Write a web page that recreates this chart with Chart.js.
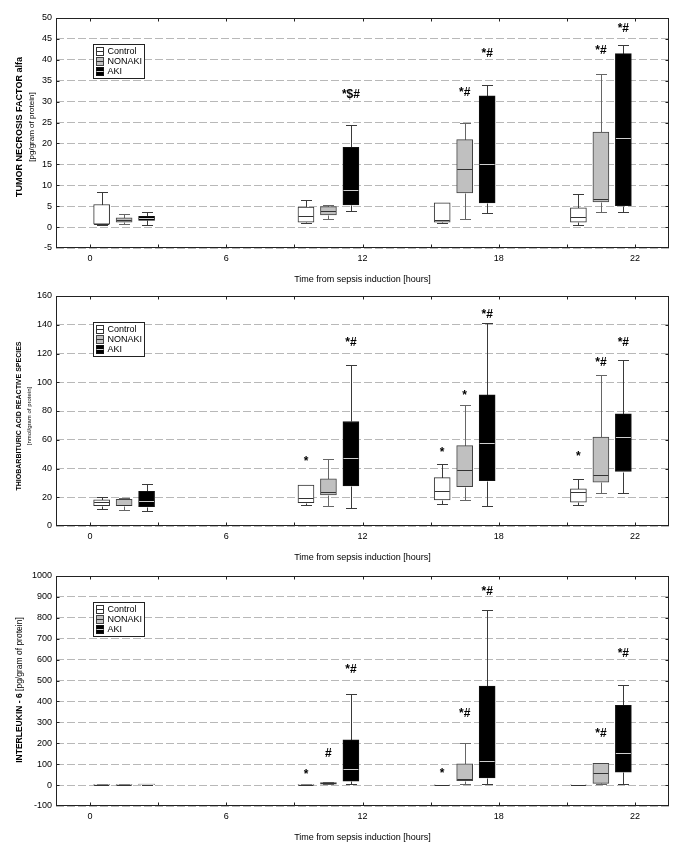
<!DOCTYPE html>
<html>
<head>
<meta charset="utf-8">
<script src="https://cdn.jsdelivr.net/npm/chart.js@4.4.0/dist/chart.umd.min.js"></script>
<style>
  body { margin: 0; background: #fff; }
  .panel { position: absolute; left: 0; width: 685px; height: 285px; }
</style>
</head>
<body>
<div class="panel" style="top:0px"><canvas id="tnf" width="685" height="285"></canvas></div>
<div class="panel" style="top:278px"><canvas id="tbars" width="685" height="285"></canvas></div>
<div class="panel" style="top:558px"><canvas id="il6" width="685" height="285"></canvas></div>
<script>
// x axis tick labels (hours) and the time points that have measurements
const timeLabels = ['0', '6', '12', '18', '22'];
const measuredTimes = ['0', '12', '18', '22'];
const groupNames = ['Control', 'NONAKI', 'AKI'];

// each row: [min, q1, median, q3, max] per measured time
const tnfControl = [[0.6, 0.7, 0.8, 5.4, 8.4], [1.0, 1.2, 2.6, 4.8, 6.5], [0.9, 1.2, 1.7, 5.8, 5.8], [0.5, 1.2, 2.5, 4.6, 7.9]];
const tnfNonaki  = [[0.7, 1.2, 1.7, 2.2, 3.1], [2.0, 2.9, 3.9, 4.9, 5.3], [2.0, 8.2, 13.9, 20.9, 25.0], [3.5, 6.0, 6.7, 22.7, 36.6]];
const tnfAki     = [[0.5, 1.6, 2.1, 2.6, 3.6], [3.9, 5.3, 8.9, 19.1, 24.3], [3.3, 5.8, 15.0, 31.4, 34.0], [3.5, 5.1, 21.4, 41.5, 43.6]];

const tbarsControl = [[11.5, 14.1, 16.6, 18.2, 20.3], [14.5, 16.2, 19.2, 28.4, 28.4], [15.5, 18.2, 24.2, 33.7, 43.2], [14.8, 16.6, 24.0, 25.9, 32.8]];
const tbarsNonaki  = [[11.1, 14.1, 14.8, 18.5, 19.2], [14.1, 21.7, 24.0, 32.8, 46.7], [18.2, 27.3, 39.0, 55.9, 84.1], [23.1, 30.5, 35.6, 61.9, 105.3]];
const tbarsAki     = [[10.4, 13.4, 17.6, 24.2, 29.3], [12.5, 27.9, 47.3, 72.7, 111.8], [13.9, 31.6, 57.7, 91.2, 140.9], [23.1, 37.9, 62.1, 78.1, 115.5]];

const il6Control = [[0.5, 1, 1.5, 2, 3], [0, 1, 1.5, 2, 3], [0, 0.5, 1, 1.5, 2], [0, 0.5, 1, 1.5, 2]];
const il6Nonaki  = [[0.5, 1, 1.5, 2, 3], [3, 5, 8, 12, 14], [3, 21, 30, 102, 201], [3, 8, 57, 104, 104]];
const il6Aki     = [[2, 3, 4, 5, 7], [3, 19, 75, 217, 438], [3, 34, 113, 473, 838], [3, 62, 153, 382, 481]];

// significance marks: [time index, group index, text, value where the mark sits]
const tnfMarks = [[1, 2, '*$#', 31.8], [2, 1, '*#', 32.3], [2, 2, '*#', 41.7], [3, 1, '*#', 42.3], [3, 2, '*#', 47.6]];
const tbarsMarks = [[1, 0, '*', 46.9], [1, 2, '*#', 128.2], [2, 0, '*', 52.7], [2, 1, '*', 92.8], [2, 2, '*#', 147.8],
                    [3, 0, '*', 50.3], [3, 1, '*#', 114.3], [3, 2, '*#', 128.2]];
const il6Marks = [[1, 0, '*', 62], [1, 1, '#', 153], [1, 2, '*#', 557], [2, 0, '*', 67], [2, 1, '*#', 347],
                  [2, 2, '*#', 928], [3, 1, '*#', 251], [3, 2, '*#', 632]];

const FONT = '"Liberation Sans", Arial, sans-serif';
const fills = ['#ffffff', '#c0c0c0', '#000000'];
const edges = ['#333333', '#444444', '#111111'];
const whiskerCols = ['#3a3a3a', '#666666', '#3a3a3a'];
const medianCols = ['#333333', '#333333', '#cfcfcf'];
const seriesShift = [-0.165, 0, 0.165];

function groupPos(g) {
  const i = timeLabels.indexOf(measuredTimes[g]);
  return i === 0 ? i + 0.25 : i - 0.25;
}

function makePanel(id, series, marks, yMin, yMax, yStep, title) {
  const datasets = series.map((rows, s) => ({
    label: groupNames[s],
    data: rows.map((r, g) => ({ x: groupPos(g) + seriesShift[s], y: [r[1], r[3]] })),
    backgroundColor: fills[s],
    borderColor: edges[s],
    borderWidth: 1,
    borderSkipped: false,
    barThickness: 16,
    grouped: false
  }));

  const boxPlugin = {
    id: 'boxParts',
    beforeDatasetsDraw(chart) {
      const { ctx, scales: { x, y } } = chart;
      ctx.save();
      ctx.lineWidth = 1;
      series.forEach((rows, s) => rows.forEach((r, g) => {
        const px = Math.round(x.getPixelForValue(groupPos(g) + seriesShift[s])) + 0.5;
        const py = v => Math.round(y.getPixelForValue(v)) + 0.5;
        ctx.strokeStyle = whiskerCols[s];
        ctx.beginPath();
        ctx.moveTo(px, py(r[3])); ctx.lineTo(px, py(r[4]));
        ctx.moveTo(px, py(r[1])); ctx.lineTo(px, py(r[0]));
        ctx.moveTo(px - 5.5, py(r[4])); ctx.lineTo(px + 5.5, py(r[4]));
        ctx.moveTo(px - 5.5, py(r[0])); ctx.lineTo(px + 5.5, py(r[0]));
        ctx.stroke();
      }));
      ctx.restore();
    },
    afterDatasetsDraw(chart) {
      const { ctx, scales: { x, y } } = chart;
      ctx.save();
      ctx.lineWidth = 1;
      series.forEach((rows, s) => rows.forEach((r, g) => {
        const px = x.getPixelForValue(groupPos(g) + seriesShift[s]);
        const my = Math.round(y.getPixelForValue(r[2])) + 0.5;
        ctx.strokeStyle = medianCols[s];
        ctx.beginPath();
        ctx.moveTo(px - 7.5, my); ctx.lineTo(px + 7.5, my);
        ctx.stroke();
      }));
      // significance marks
      ctx.fillStyle = '#000';
      ctx.font = 'bold 12px ' + FONT;
      ctx.textAlign = 'center';
      ctx.textBaseline = 'alphabetic';
      marks.forEach(m => {
        const px = x.getPixelForValue(groupPos(m[0]) + seriesShift[m[1]]);
        const off = m[2] === '*' ? 6 : 4;
        ctx.fillText(m[2], px, y.getPixelForValue(m[3]) + off);
      });
      ctx.restore();
    },
    afterDraw(chart) {
      const { ctx, chartArea: a, scales: { x, y } } = chart;
      ctx.save();
      // frame with inward ticks
      ctx.strokeStyle = '#222';
      ctx.lineWidth = 1;
      const L = Math.round(a.left) + 0.5, R = Math.round(a.right) - 0.5;
      const T = Math.round(a.top) + 0.5, B = Math.round(a.bottom) - 0.5;
      ctx.strokeRect(L, T, R - L, B - T);
      ctx.beginPath();
      for (let v = 0; v <= timeLabels.length - 1; v += 0.5) {
        const px = Math.round(x.getPixelForValue(v)) + 0.5;
        ctx.moveTo(px, B); ctx.lineTo(px, B - 3);
        ctx.moveTo(px, T); ctx.lineTo(px, T + 3);
      }
      for (let v = yMin + yStep; v < yMax; v += yStep) {
        const py = Math.round(y.getPixelForValue(v)) + 0.5;
        ctx.moveTo(L, py); ctx.lineTo(L + 3, py);
        ctx.moveTo(R, py); ctx.lineTo(R - 3, py);
      }
      ctx.stroke();

      // legend
      const lx = Math.round(a.left) + 37.5, ly = Math.round(a.top) + 26.5;
      ctx.fillStyle = '#fff';
      ctx.fillRect(lx, ly, 51, 34);
      ctx.strokeStyle = '#222';
      ctx.strokeRect(lx, ly, 51, 34);
      ctx.font = '9px ' + FONT;
      ctx.textAlign = 'left';
      ctx.textBaseline = 'middle';
      groupNames.forEach((name, s) => {
        const cy = ly + 7 + s * 10;
        ctx.fillStyle = fills[s];
        ctx.fillRect(lx + 3, cy - 4, 7, 8);
        ctx.strokeStyle = edges[s];
        ctx.strokeRect(lx + 3, cy - 4, 7, 8);
        ctx.strokeStyle = medianCols[s];
        ctx.beginPath(); ctx.moveTo(lx + 3, cy); ctx.lineTo(lx + 10, cy); ctx.stroke();
        ctx.fillStyle = '#000';
        ctx.fillText(name, lx + 14, cy + 0.5);
      });

      // y axis title (rotated, possibly mixed weights)
      title.lines.forEach(line => {
        ctx.save();
        ctx.translate(line.x, title.center);
        ctx.rotate(-Math.PI / 2);
        ctx.textBaseline = 'middle';
        ctx.textAlign = 'left';
        let total = 0;
        line.runs.forEach(run => {
          ctx.font = (run.bold ? 'bold ' : '') + run.size + 'px ' + FONT;
          total += ctx.measureText(run.t).width;
        });
        let cx = -total / 2;
        ctx.fillStyle = '#000';
        line.runs.forEach(run => {
          ctx.font = (run.bold ? 'bold ' : '') + run.size + 'px ' + FONT;
          ctx.fillText(run.t, cx, 0);
          cx += ctx.measureText(run.t).width;
        });
        ctx.restore();
      });
      ctx.restore();
    }
  };

  return new Chart(document.getElementById(id), {
    type: 'bar',
    data: { datasets },
    options: {
      responsive: false,
      animation: false,
      layout: { padding: { top: 18, right: 16, left: 0, bottom: 0 } },
      plugins: { legend: { display: false }, tooltip: { enabled: false } },
      scales: {
        x: {
          type: 'linear',
          min: -0.25,
          max: timeLabels.length - 0.75,
          offset: false,
          grid: { display: false, drawTicks: false },
          border: { display: false },
          ticks: {
            stepSize: 1,
            includeBounds: false,
            autoSkip: false,
            maxRotation: 0,
            padding: 5,
            color: '#000',
            font: { size: 9, family: FONT },
            callback: v => (timeLabels[v] !== undefined ? timeLabels[v] : '')
          },
          title: {
            display: true,
            text: 'Time from sepsis induction [hours]',
            color: '#000',
            font: { size: 9, family: FONT },
            padding: { top: 0, bottom: 0 }
          },
          afterFit: s => { s.height = 37; }
        },
        y: {
          min: yMin,
          max: yMax,
          grid: { color: '#b8b8b8', lineWidth: 1, drawTicks: false },
          border: { display: false, dash: [8, 3] },
          ticks: {
            stepSize: yStep,
            padding: 4,
            color: '#000',
            font: { size: 9, family: FONT },
            callback: v => String(v)
          },
          afterFit: s => { s.width = 56; }
        }
      }
    },
    plugins: [boxPlugin]
  });
}

makePanel('tnf', [tnfControl, tnfNonaki, tnfAki], tnfMarks, -5, 50, 5, {
  center: 127,
  lines: [
    { x: 20, runs: [{ t: 'TUMOR NECROSIS FACTOR alfa', bold: true, size: 9 }] },
    { x: 32, runs: [{ t: '[pg/gram of protein]', bold: false, size: 8 }] }
  ]
});

makePanel('tbars', [tbarsControl, tbarsNonaki, tbarsAki], tbarsMarks, 0, 160, 20, {
  center: 138,
  lines: [
    { x: 19, runs: [{ t: 'THIOBARBITURIC ACID REACTIVE SPECIES', bold: true, size: 7 }] },
    { x: 29, runs: [{ t: '[nmol/gram of protein]', bold: false, size: 6 }] }
  ]
});

makePanel('il6', [il6Control, il6Nonaki, il6Aki], il6Marks, -100, 1000, 100, {
  center: 132,
  lines: [
    { x: 20, runs: [{ t: 'INTERLEUKIN - 6 ', bold: true, size: 8.5 }, { t: '[pg/gram of protein]', bold: false, size: 8.5 }] }
  ]
});
</script>
</body>
</html>
